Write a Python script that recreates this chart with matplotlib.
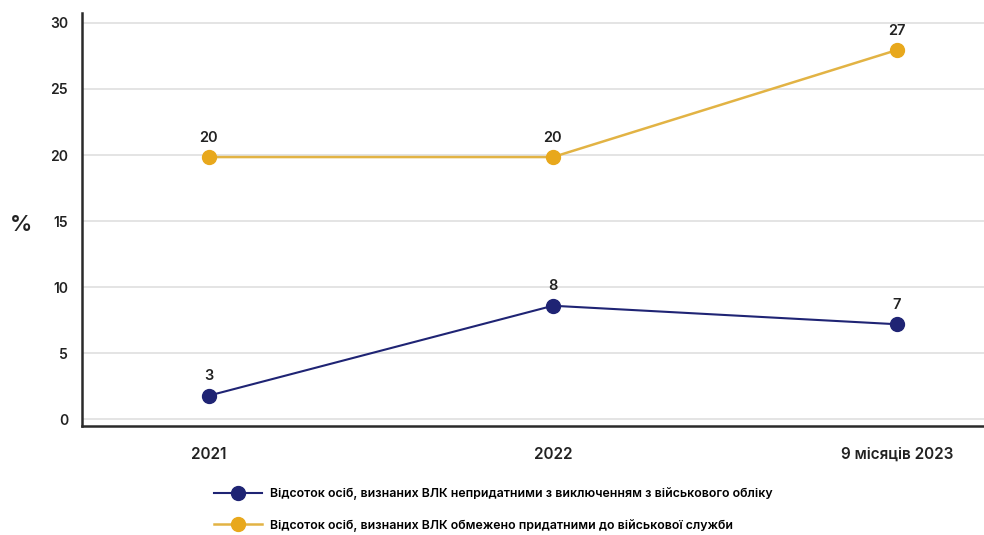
import matplotlib
matplotlib.use("Agg")
import matplotlib.pyplot as plt

plt.rcParams['font.family'] = ['Inter', 'DejaVu Sans']

categories = ["2021", "2022", "9 місяців 2023"]
unfit_values = [1.8, 8.6, 7.2]
unfit_labels = ["3", "8", "7"]
limited_values = [19.85, 19.85, 27.95]
limited_labels = ["20", "20", "27"]
series_names = [
    "Відсоток осіб, визнаних ВЛК непридатними з виключенням з військового обліку",
    "Відсоток осіб, визнаних ВЛК обмежено придатними до військової служби",
]
yticks = [0, 5, 10, 15, 20, 25, 30]

blue = "#1f2474"
yellow = "#e8a81c"
yellow_line = "#e2b344"
txt = "#222222"
W = 'semibold'

fig = plt.figure(figsize=(9.84, 5.35), dpi=100)
ax = fig.add_axes([0.0833, 0.2037, 0.9167, 0.772])

x = list(range(len(categories)))
l1, = ax.plot(x, unfit_values, color=blue, lw=1.5, marker='o', ms=10,
              markerfacecolor=blue, markeredgecolor=blue, zorder=3,
              label=series_names[0])
l2, = ax.plot(x, limited_values, color=yellow_line, lw=1.8, marker='o', ms=10,
              markerfacecolor=yellow, markeredgecolor=yellow, zorder=3,
              label=series_names[1])

for xi, v, t in zip(x, unfit_values, unfit_labels):
    ax.annotate(t, (xi, v), xytext=(0, 14), textcoords='offset points',
                ha='center', va='center', fontsize=10.5, fontweight=W, color=txt)
for xi, v, t in zip(x, limited_values, limited_labels):
    ax.annotate(t, (xi, v), xytext=(0, 14), textcoords='offset points',
                ha='center', va='center', fontsize=10.5, fontweight=W, color=txt)

ax.set_xlim(-0.369, 2.253)
ax.set_ylim(-0.5, 30.75)
ax.set_yticks(yticks)
ax.set_yticklabels([str(t) for t in yticks], fontsize=10, fontweight=W, color=txt)
ax.set_xticks(x)
ax.set_xticklabels(categories, fontsize=11, fontweight=W, color=txt)
ax.tick_params(axis='both', length=0)
ax.tick_params(axis='y', pad=10)
ax.tick_params(axis='x', pad=15)

ax.grid(axis='y', color='#e2e2e2', lw=1.3)
ax.set_axisbelow(True)
for s in ['top', 'right']:
    ax.spines[s].set_visible(False)
for s in ['left', 'bottom']:
    ax.spines[s].set_color('#2a2a2a')
    ax.spines[s].set_linewidth(1.8)

fig.text(0.021, 0.58, "%", fontsize=16, fontweight=W, color=txt,
         ha='center', va='center')

fig.legend(handles=[l1, l2], loc='upper left', bbox_to_anchor=(0.217, 0.089),
           frameon=False, handlelength=3.9, handletextpad=0.65,
           labelspacing=1.5, borderaxespad=0, borderpad=0,
           prop={'size': 8.9, 'weight': W})

fig.savefig("out.png", dpi=100)
